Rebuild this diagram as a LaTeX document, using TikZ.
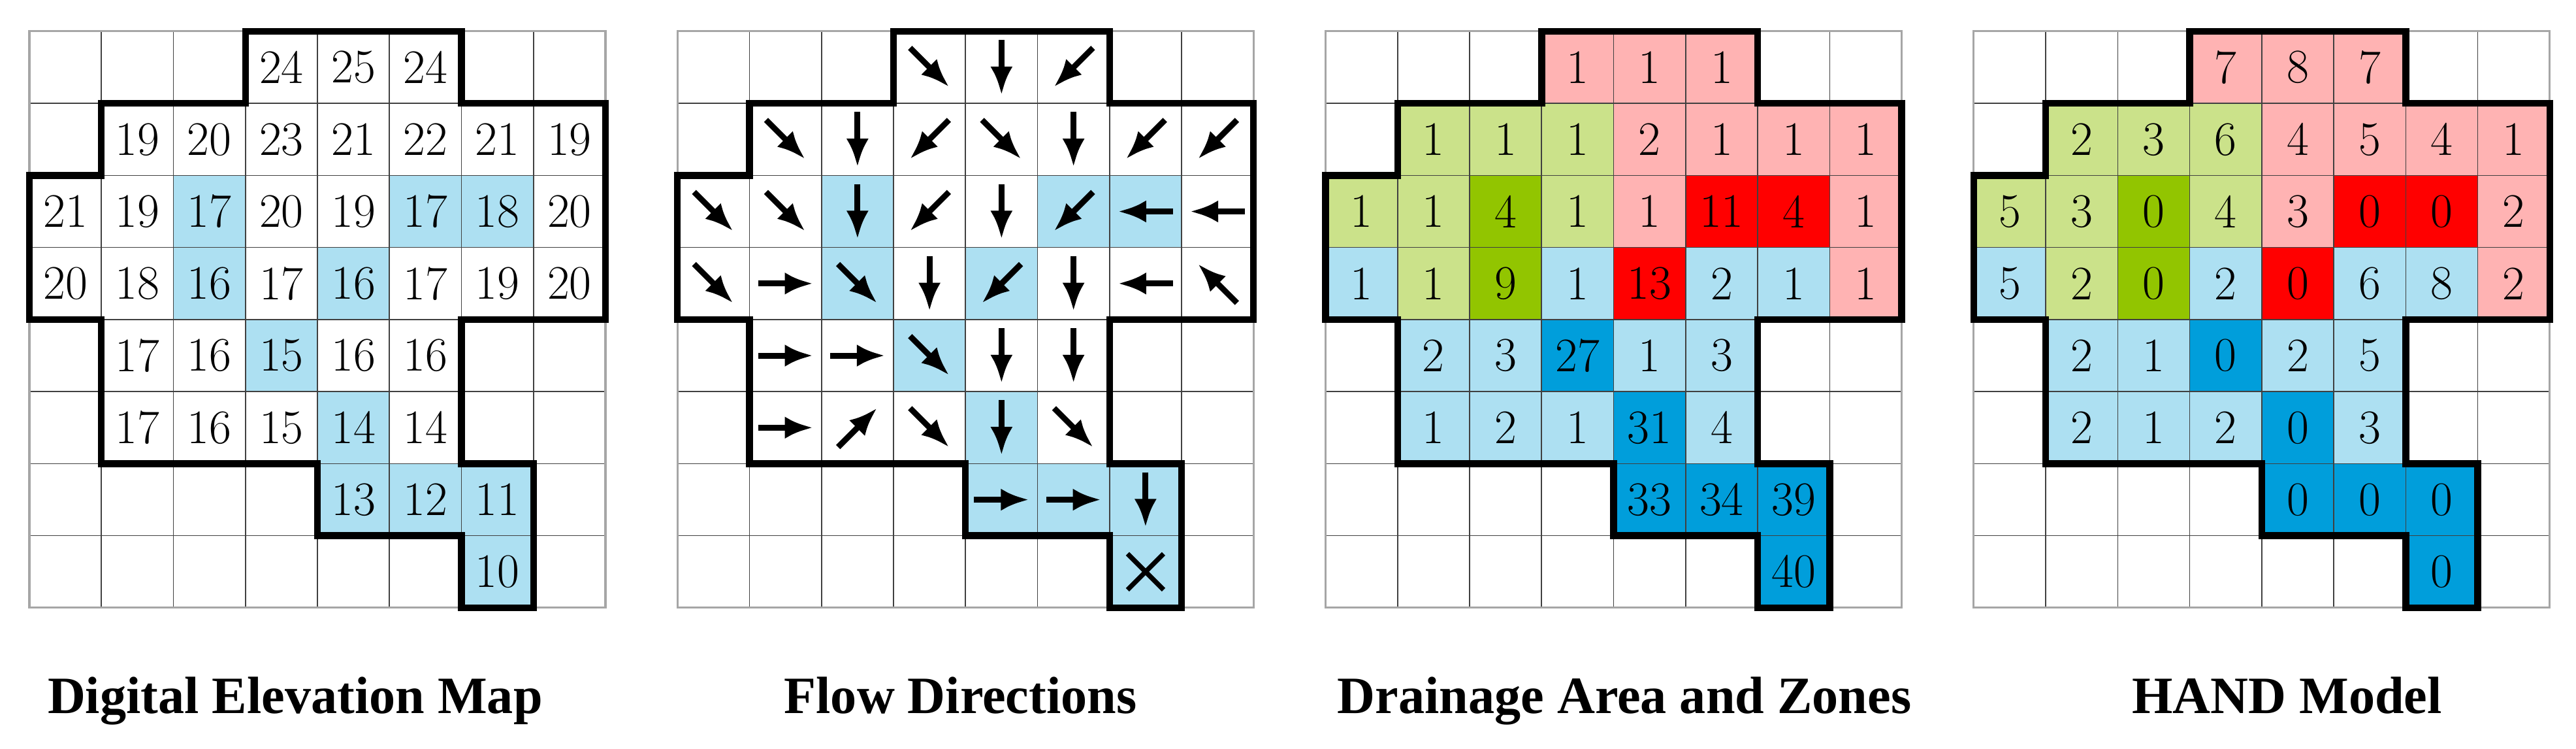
\documentclass[tikz,border=0pt]{standalone}
\usepackage{fontspec}
\newfontfamily\panelfont{Liberation Serif}
\usetikzlibrary{arrows.meta}

\definecolor{streamblue}{RGB}{173,224,242}
\definecolor{outletblue}{RGB}{0,158,219}
\definecolor{zonepink}{RGB}{255,179,179}
\definecolor{zonered}{RGB}{255,0,0}
\definecolor{zonegreen}{RGB}{203,226,138}
\definecolor{coregreen}{RGB}{146,197,0}

\begin{document}
\begin{tikzpicture}[
        cellnum/.style={font=\fontsize{19}{20}\selectfont, inner sep=0pt},
        flow/.style={line width=2.3pt, -{Latex[length=3.9mm, width=3.1mm]}},
        basin/.style={line width=2.7pt},
        panel/.style={font=\panelfont\bfseries\fontsize{20.7}{24}\selectfont, anchor=base}
    ]
    \useasboundingbox (-0.408,-1.959) rectangle (35.365,8.435);

    % stream cells (elevation and flow panels)
    \foreach \x in {0,9}
        \foreach \c/\r in {2/2,5/2,6/2,2/3,4/3,3/4,4/5,4/6,5/6,6/6,6/7}
            \fill[streamblue] (\x+\c,7-\r) rectangle ++(1,1);

    % zones (drainage and HAND panels)
    \foreach \x in {18,27} {
        \foreach \c/\r in {3/0,4/0,5/0,4/1,5/1,6/1,7/1,4/2,7/2,7/3}
            \fill[zonepink] (\x+\c,7-\r) rectangle ++(1,1);
        \foreach \c/\r in {5/2,6/2,4/3}
            \fill[zonered] (\x+\c,7-\r) rectangle ++(1,1);
        \foreach \c/\r in {1/1,2/1,3/1,0/2,1/2,3/2,1/3}
            \fill[zonegreen] (\x+\c,7-\r) rectangle ++(1,1);
        \foreach \c/\r in {2/2,2/3}
            \fill[coregreen] (\x+\c,7-\r) rectangle ++(1,1);
        \foreach \c/\r in {0/3,3/3,5/3,6/3,1/4,2/4,4/4,5/4,1/5,2/5,3/5,5/5}
            \fill[streamblue] (\x+\c,7-\r) rectangle ++(1,1);
        \foreach \c/\r in {3/4,4/5,4/6,5/6,6/6,6/7}
            \fill[outletblue] (\x+\c,7-\r) rectangle ++(1,1);
    }

    % grids and basin outline
    \foreach \x in {0,9,18,27} {
        \begin{scope}[xshift=\x cm]
            \draw[black!75, line width=0.4pt] (0,0) grid (8,8);
            \draw[black!35, line width=0.8pt] (0,0) rectangle (8,8);
            \draw[basin] (3,8) -- (6,8) -- (6,7) -- (8,7) -- (8,4) -- (6,4) -- (6,2) -- (7,2)
                -- (7,0) -- (6,0) -- (6,1) -- (4,1) -- (4,2) -- (1,2) -- (1,4) -- (0,4)
                -- (0,6) -- (1,6) -- (1,7) -- (3,7) -- cycle;
        \end{scope}
    }

    % elevations
    \foreach \c/\r/\v in {3/0/24,4/0/25,5/0/24,
            1/1/19,2/1/20,3/1/23,4/1/21,5/1/22,6/1/21,7/1/19,
            0/2/21,1/2/19,2/2/17,3/2/20,4/2/19,5/2/17,6/2/18,7/2/20,
            0/3/20,1/3/18,2/3/16,3/3/17,4/3/16,5/3/17,6/3/19,7/3/20,
            1/4/17,2/4/16,3/4/15,4/4/16,5/4/16,
            1/5/17,2/5/16,3/5/15,4/5/14,5/5/14,
            4/6/13,5/6/12,6/6/11,
            6/7/10}
        \node[cellnum] (dem-\c-\r) at (\c+0.5,7.5-\r) {\v};

    % flow directions
    \begin{scope}[xshift=9cm]
        \foreach \c/\r/\dx/\dy in {3/0/1/-1,4/0/0/-1,5/0/-1/-1,
                1/1/1/-1,2/1/0/-1,3/1/-1/-1,4/1/1/-1,5/1/0/-1,6/1/-1/-1,7/1/-1/-1,
                0/2/1/-1,1/2/1/-1,2/2/0/-1,3/2/-1/-1,4/2/0/-1,5/2/-1/-1,6/2/-1/0,7/2/-1/0,
                0/3/1/-1,1/3/1/0,2/3/1/-1,3/3/0/-1,4/3/-1/-1,5/3/0/-1,6/3/-1/0,7/3/-1/1,
                1/4/1/0,2/4/1/0,3/4/1/-1,4/4/0/-1,5/4/0/-1,
                1/5/1/0,2/5/1/1,3/5/1/-1,4/5/0/-1,5/5/1/-1,
                4/6/1/0,5/6/1/0,6/6/0/-1} {
            \pgfmathsetmacro\h{abs(\dx*\dy)>0 ? 0.27 : 0.38}
            \draw[flow] ({\c+0.5-(\dx)*\h},{7.5-\r-(\dy)*\h}) -- ({\c+0.5+(\dx)*\h},{7.5-\r+(\dy)*\h});
        }
        % outlet
        \draw[line width=1.9pt] (6.25,0.25) -- (6.75,0.75) (6.25,0.75) -- (6.75,0.25);
    \end{scope}

    % drainage area
    \begin{scope}[xshift=18cm]
        \foreach \c/\r/\v in {3/0/1,4/0/1,5/0/1,
                1/1/1,2/1/1,3/1/1,4/1/2,5/1/1,6/1/1,7/1/1,
                0/2/1,1/2/1,2/2/4,3/2/1,4/2/1,5/2/11,6/2/4,7/2/1,
                0/3/1,1/3/1,2/3/9,3/3/1,4/3/13,5/3/2,6/3/1,7/3/1,
                1/4/2,2/4/3,3/4/27,4/4/1,5/4/3,
                1/5/1,2/5/2,3/5/1,4/5/31,5/5/4,
                4/6/33,5/6/34,6/6/39,
                6/7/40}
            \node[cellnum] (area-\c-\r) at (\c+0.5,7.5-\r) {\v};
    \end{scope}

    % height above nearest drainage
    \begin{scope}[xshift=27cm]
        \foreach \c/\r/\v in {3/0/7,4/0/8,5/0/7,
                1/1/2,2/1/3,3/1/6,4/1/4,5/1/5,6/1/4,7/1/1,
                0/2/5,1/2/3,2/2/0,3/2/4,4/2/3,5/2/0,6/2/0,7/2/2,
                0/3/5,1/3/2,2/3/0,3/3/2,4/3/0,5/3/6,6/3/8,7/3/2,
                1/4/2,2/4/1,3/4/0,4/4/2,5/4/5,
                1/5/2,2/5/1,3/5/2,4/5/0,5/5/3,
                4/6/0,5/6/0,6/6/0,
                6/7/0}
            \node[cellnum] (hand-\c-\r) at (\c+0.5,7.5-\r) {\v};
    \end{scope}

    \node[panel] (dem-title)  at (3.69,-1.469)  {Digital Elevation Map};
    \node[panel] (flow-title) at (12.93,-1.469) {Flow Directions};
    \node[panel] (area-title) at (22.15,-1.469) {Drainage Area and Zones};
    \node[panel] (hand-title) at (31.35,-1.469) {HAND Model};
\end{tikzpicture}
\end{document}
